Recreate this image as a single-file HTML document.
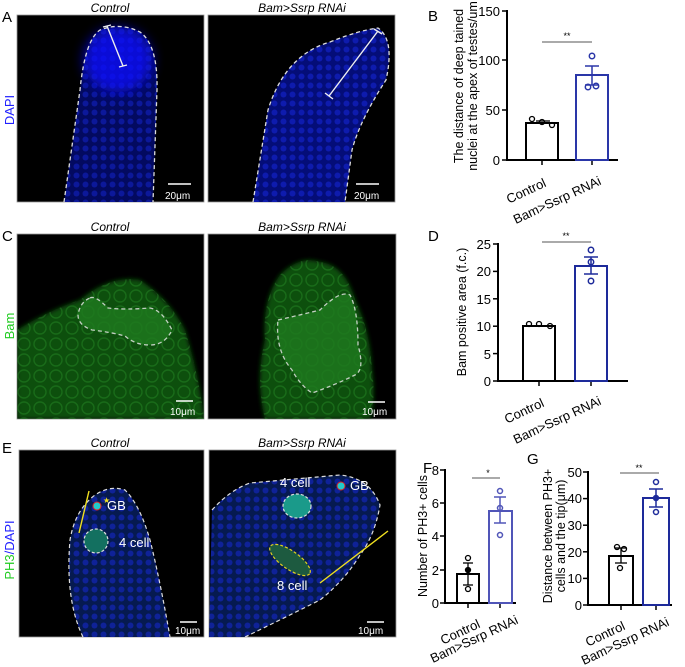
<!DOCTYPE html>
<html><head><meta charset="utf-8"><style>body{margin:0;background:#fff}svg{display:block}text{font-family:"Liberation Sans",Arial,sans-serif}</style></head><body>
<svg width="685" height="667" viewBox="0 0 685 667" xmlns="http://www.w3.org/2000/svg">
<defs>
<filter id="bl" x="-20%" y="-20%" width="140%" height="140%"><feGaussianBlur stdDeviation="6"/></filter>
<filter id="bl2"><feGaussianBlur stdDeviation="2"/></filter>
<pattern id="dots" width="9" height="9" patternUnits="userSpaceOnUse"><circle cx="4.5" cy="4.5" r="3" fill="#1a2cf0" opacity="0.9"/></pattern>
<pattern id="rings" width="16" height="16" patternUnits="userSpaceOnUse"><circle cx="8" cy="8" r="6" fill="none" stroke="#2fa02f" stroke-width="1.4" opacity="0.7"/></pattern>
<clipPath id="cA1"><rect x="17" y="15" width="187" height="187"/></clipPath>
<clipPath id="cA2"><rect x="208" y="15" width="187" height="187"/></clipPath>
<clipPath id="cC1"><rect x="17" y="234" width="187" height="185"/></clipPath>
<clipPath id="cC2"><rect x="208" y="234" width="188" height="185"/></clipPath>
<clipPath id="cE1"><rect x="19" y="450" width="185" height="187"/></clipPath>
<clipPath id="cE2"><rect x="209" y="450" width="187" height="187"/></clipPath>
</defs>

<!-- Panel A -->
<text x="2" y="22" font-size="15">A</text>
<text x="110" y="12" font-size="12" font-style="italic" text-anchor="middle">Control</text>
<text x="302" y="12" font-size="12" font-style="italic" text-anchor="middle">Bam&gt;Ssrp RNAi</text>
<text transform="translate(14,110) rotate(-90)" font-size="13" fill="#2020ff" text-anchor="middle">DAPI</text>
<rect x="17" y="15" width="187" height="187" fill="#000" stroke="#999" stroke-width="0.8"/>
<rect x="208" y="15" width="187" height="187" fill="#000" stroke="#999" stroke-width="0.8"/>
<g clip-path="url(#cA1)">
<path d="M64,202 L80,90 Q85,40 100,30 Q120,22 140,32 Q158,45 157,90 L153,202 Z" fill="#030a60"/>
<path d="M64,202 L80,90 Q85,40 100,30 Q120,22 140,32 Q158,45 157,90 L153,202 Z" fill="url(#dots)" opacity="0.45"/>
<ellipse cx="118" cy="60" rx="34" ry="32" fill="#1010ff" filter="url(#bl)" opacity="0.75"/>
<path d="M64,202 L80,90 Q85,40 100,30 Q120,22 140,32 Q158,45 157,90 L153,202" fill="none" stroke="#ddd" stroke-width="1.3" stroke-dasharray="4,3"/>
<path d="M107,26 L123,66 M103,27 L111,25 M119,67 L127,65" stroke="#eee" stroke-width="1.4"/>
<line x1="168" y1="184" x2="191" y2="184" stroke="#fff" stroke-width="1.5"/>
<text x="165" y="199" font-size="10" fill="#fff">20μm</text>
</g>
<g clip-path="url(#cA2)">
<path d="M253,202 L268,110 Q285,55 330,42 Q360,30 378,28 Q395,40 386,80 Q360,120 352,150 L345,202 Z" fill="#040d78"/>
<path d="M253,202 L268,110 Q285,55 330,42 Q360,30 378,28 Q395,40 386,80 Q360,120 352,150 L345,202 Z" fill="url(#dots)" opacity="0.5"/>
<path d="M253,202 L268,110 Q285,55 330,42 Q360,30 378,28 Q395,40 386,80 Q360,120 352,150 L345,202" fill="none" stroke="#ddd" stroke-width="1.3" stroke-dasharray="4,3"/>
<path d="M378,31 L329,96 M374,29 L382,34 M325,93 L333,99" stroke="#eee" stroke-width="1.4"/>
<line x1="356" y1="184" x2="379" y2="184" stroke="#fff" stroke-width="1.5"/>
<text x="354" y="199" font-size="10" fill="#fff">20μm</text>
</g>

<!-- Panel C -->
<text x="2" y="241" font-size="15">C</text>
<text x="110" y="231" font-size="12" font-style="italic" text-anchor="middle">Control</text>
<text x="302" y="231" font-size="12" font-style="italic" text-anchor="middle">Bam&gt;Ssrp RNAi</text>
<text transform="translate(14,326) rotate(-90)" font-size="13" fill="#22cc22" text-anchor="middle">Bam</text>
<rect x="17" y="234" width="187" height="185" fill="#000" stroke="#999" stroke-width="0.8"/>
<rect x="208" y="234" width="188" height="185" fill="#000" stroke="#999" stroke-width="0.8"/>
<g clip-path="url(#cC1)">
<path d="M17,330 Q50,310 80,300 Q110,275 140,280 Q170,300 185,330 Q200,380 204,419 L17,419 Z" fill="#105010" filter="url(#bl2)"/>
<path d="M17,330 Q50,310 80,300 Q110,275 140,280 Q170,300 185,330 Q200,380 204,419 L17,419 Z" fill="url(#rings)" opacity="0.5"/>
<path d="M90,298 Q95,295 108,308 Q125,310 150,308 Q162,310 172,330 Q165,345 150,345 Q135,345 125,336 Q110,332 92,330 Q78,325 78,315 Q80,302 90,298 Z" fill="#1f7a1f" opacity="0.8" stroke="#eee" stroke-width="1.3" stroke-dasharray="4,3"/>
<line x1="176" y1="401" x2="193" y2="401" stroke="#fff" stroke-width="1.5"/>
<text x="170" y="415" font-size="10" fill="#fff">10μm</text>
</g>
<g clip-path="url(#cC2)">
<path d="M265,419 Q255,380 265,340 Q262,300 280,275 Q300,255 320,262 Q345,265 355,300 Q370,330 372,370 Q376,400 370,419 Z" fill="#105010" filter="url(#bl2)"/>
<path d="M265,419 Q255,380 265,340 Q262,300 280,275 Q300,255 320,262 Q345,265 355,300 Q370,330 372,370 Q376,400 370,419 Z" fill="url(#rings)" opacity="0.5"/>
<path d="M278,320 Q300,315 320,310 Q340,290 350,295 Q358,310 358,345 Q365,370 355,375 Q335,385 312,393 Q300,385 292,370 Q275,350 278,320 Z" fill="#1f7a1f" opacity="0.8" stroke="#eee" stroke-width="1.3" stroke-dasharray="4,3"/>
<line x1="368" y1="402" x2="385" y2="402" stroke="#fff" stroke-width="1.5"/>
<text x="362" y="415" font-size="10" fill="#fff">10μm</text>
</g>

<!-- Panel E -->
<text x="2" y="453" font-size="15">E</text>
<text x="110" y="447" font-size="12" font-style="italic" text-anchor="middle">Control</text>
<text x="302" y="447" font-size="12" font-style="italic" text-anchor="middle">Bam&gt;Ssrp RNAi</text>
<text transform="translate(14,550) rotate(-90)" font-size="13" text-anchor="middle"><tspan fill="#22cc22">PH3</tspan><tspan fill="#2020ff">/DAPI</tspan></text>
<rect x="19" y="450" width="185" height="187" fill="#000" stroke="#999" stroke-width="0.8"/>
<rect x="209" y="450" width="187" height="187" fill="#000" stroke="#999" stroke-width="0.8"/>
<g clip-path="url(#cE1)">
<path d="M83,637 Q65,600 70,540 Q75,510 95,495 Q110,485 125,490 Q140,505 150,540 Q160,580 170,637 Z" fill="#061a50"/>
<path d="M83,637 Q65,600 70,540 Q75,510 95,495 Q110,485 125,490 Q140,505 150,540 Q160,580 170,637 Z" fill="url(#dots)" opacity="0.5"/>
<path d="M83,637 Q65,600 70,540 Q75,510 95,495 Q110,485 125,490 Q140,505 150,540 Q160,580 170,637" fill="none" stroke="#ddd" stroke-width="1.2" stroke-dasharray="4,3"/>
<line x1="89" y1="491" x2="79" y2="533" stroke="#f0e020" stroke-width="1.4"/>
<circle cx="97" cy="506" r="4" fill="#2cc" stroke="#d22" stroke-width="1"/>
<text x="103" y="503" font-size="8" fill="#f0e020">★</text>
<text x="107" y="510" font-size="13" fill="#fff">GB</text>
<circle cx="96" cy="541" r="12" fill="#137060" stroke="#ddd" stroke-width="1.2" stroke-dasharray="3,2"/>
<text x="119" y="547" font-size="13" fill="#fff">4 cell</text>
<line x1="180" y1="622" x2="197" y2="622" stroke="#fff" stroke-width="1.5"/>
<text x="175" y="634" font-size="10" fill="#fff">10μm</text>
</g>
<g clip-path="url(#cE2)">
<path d="M212,510 Q230,490 250,483 L340,475 Q370,478 380,505 Q375,535 360,555 Q345,580 320,600 Q280,620 245,637 L209,637 Z" fill="#061a50"/>
<path d="M212,510 Q230,490 250,483 L340,475 Q370,478 380,505 Q375,535 360,555 Q345,580 320,600 Q280,620 245,637 L209,637 Z" fill="url(#dots)" opacity="0.5"/>
<path d="M212,510 Q230,490 250,483 L340,475 Q370,478 380,505 Q375,535 360,555 Q345,580 320,600 Q280,620 245,637" fill="none" stroke="#ddd" stroke-width="1.2" stroke-dasharray="4,3"/>
<ellipse cx="297" cy="506" rx="14" ry="12" fill="#1a9a8a" stroke="#ddd" stroke-width="1.2" stroke-dasharray="3,2"/>
<ellipse cx="290" cy="560" rx="24" ry="9" transform="rotate(35 290 560)" fill="#1d5a40" stroke="#e0d020" stroke-width="1.2" stroke-dasharray="3,2"/>
<circle cx="341" cy="486" r="4" fill="#2cc" stroke="#d22" stroke-width="1"/>
<text x="280" y="487" font-size="13" fill="#fff">4 cell</text>
<text x="350" y="490" font-size="13" fill="#fff">GB</text>
<text x="277" y="590" font-size="13" fill="#fff">8 cell</text>
<line x1="320" y1="583" x2="388" y2="531" stroke="#f0e020" stroke-width="1.4"/>
<line x1="367" y1="622" x2="384" y2="622" stroke="#fff" stroke-width="1.5"/>
<text x="358" y="634" font-size="10" fill="#fff">10μm</text>
</g>

<!-- Chart B -->
<g font-size="13">
<text x="428" y="21" font-size="15">B</text>
<text transform="translate(463,86) rotate(-90)" font-size="12.5" text-anchor="middle">The distance of deep tained</text>
<text transform="translate(477,86) rotate(-90)" font-size="12.5" text-anchor="middle">nuclei at the apex of testes/um</text>
<line x1="507" y1="10" x2="507" y2="160" stroke="#000" stroke-width="2"/>
<line x1="506" y1="160" x2="618" y2="160" stroke="#000" stroke-width="2"/>
<g stroke="#000" stroke-width="1.5"><line x1="502" y1="11" x2="507" y2="11"/><line x1="502" y1="60" x2="507" y2="60"/><line x1="502" y1="110" x2="507" y2="110"/><line x1="502" y1="160" x2="507" y2="160"/><line x1="542" y1="160" x2="542" y2="165"/><line x1="592" y1="160" x2="592" y2="165"/></g>
<text x="500" y="16" text-anchor="end">150</text><text x="500" y="65" text-anchor="end">100</text><text x="500" y="115" text-anchor="end">50</text><text x="500" y="165" text-anchor="end">0</text>
<rect x="526" y="123" width="32" height="37" fill="none" stroke="#000" stroke-width="2"/>
<rect x="576" y="75" width="32" height="85" fill="none" stroke="#2a36a8" stroke-width="2"/>
<g stroke="#000" stroke-width="1.3" fill="none"><line x1="536" y1="121" x2="550" y2="121"/><circle cx="532" cy="119" r="2.5"/><circle cx="542" cy="122" r="2.5"/><circle cx="552" cy="125" r="2.5"/></g>
<g stroke="#2a36a8" stroke-width="1.5" fill="none"><line x1="592" y1="66" x2="592" y2="85"/><line x1="585" y1="66" x2="599" y2="66"/><line x1="585" y1="85" x2="599" y2="85"/><circle cx="592" cy="56" r="2.7"/><circle cx="588" cy="87" r="2.7"/><circle cx="596" cy="86" r="2.7"/></g>
<line x1="542" y1="42" x2="592" y2="42" stroke="#555" stroke-width="1"/>
<text x="567" y="39" font-size="9" text-anchor="middle">**</text>
<text transform="translate(547,186) rotate(-25)" text-anchor="end">Control</text>
<text transform="translate(602,184) rotate(-25)" text-anchor="end">Bam&gt;Ssrp RNAi</text>
</g>

<!-- Chart D -->
<g font-size="13">
<text x="428" y="241" font-size="15">D</text>
<text transform="translate(466,312) rotate(-90)" font-size="12.5" text-anchor="middle">Bam positive area (f.c.)</text>
<line x1="498" y1="243" x2="498" y2="381" stroke="#000" stroke-width="2"/>
<line x1="497" y1="381" x2="628" y2="381" stroke="#000" stroke-width="2"/>
<g stroke="#000" stroke-width="1.5"><line x1="493" y1="244" x2="498" y2="244"/><line x1="493" y1="271.4" x2="498" y2="271.4"/><line x1="493" y1="298.8" x2="498" y2="298.8"/><line x1="493" y1="326.2" x2="498" y2="326.2"/><line x1="493" y1="353.6" x2="498" y2="353.6"/><line x1="493" y1="381" x2="498" y2="381"/><line x1="539" y1="381" x2="539" y2="386"/><line x1="591" y1="381" x2="591" y2="386"/></g>
<text x="491" y="249" text-anchor="end">25</text><text x="491" y="276" text-anchor="end">20</text><text x="491" y="304" text-anchor="end">15</text><text x="491" y="331" text-anchor="end">10</text><text x="491" y="359" text-anchor="end">5</text><text x="491" y="386" text-anchor="end">0</text>
<rect x="523" y="326" width="32" height="55" fill="none" stroke="#000" stroke-width="2"/>
<rect x="575" y="266" width="32" height="115" fill="none" stroke="#1d2a9a" stroke-width="2"/>
<g stroke="#000" stroke-width="1.3" fill="none"><circle cx="529" cy="324" r="2.5"/><circle cx="539" cy="324" r="2.5"/><circle cx="550" cy="326" r="2.5"/></g>
<g stroke="#1d2a9a" stroke-width="1.5" fill="none"><line x1="591" y1="257" x2="591" y2="274"/><line x1="584" y1="257" x2="598" y2="257"/><line x1="584" y1="274" x2="598" y2="274"/><circle cx="591" cy="250" r="2.7"/><circle cx="591" cy="262" r="2.7"/><circle cx="591" cy="281" r="2.7"/></g>
<line x1="542" y1="242" x2="591" y2="242" stroke="#555" stroke-width="1"/>
<text x="566" y="239" font-size="9" text-anchor="middle">**</text>
<text transform="translate(545,406) rotate(-25)" text-anchor="end">Control</text>
<text transform="translate(602,404) rotate(-25)" text-anchor="end">Bam&gt;Ssrp RNAi</text>
</g>

<!-- Chart F -->
<g font-size="13">
<text x="423" y="473" font-size="15">F</text>
<text transform="translate(427,536) rotate(-90)" font-size="12.5" text-anchor="middle">Number of PH3+ cells</text>
<line x1="445" y1="469" x2="445" y2="603" stroke="#000" stroke-width="2"/>
<line x1="444" y1="603" x2="516" y2="603" stroke="#000" stroke-width="2"/>
<g stroke="#000" stroke-width="1.5"><line x1="440" y1="470" x2="445" y2="470"/><line x1="440" y1="503" x2="445" y2="503"/><line x1="440" y1="536" x2="445" y2="536"/><line x1="440" y1="570" x2="445" y2="570"/><line x1="440" y1="603" x2="445" y2="603"/><line x1="468" y1="603" x2="468" y2="608"/><line x1="500" y1="603" x2="500" y2="608"/></g>
<text x="439" y="475" text-anchor="end">8</text><text x="439" y="508" text-anchor="end">6</text><text x="439" y="541" text-anchor="end">4</text><text x="439" y="575" text-anchor="end">2</text><text x="439" y="608" text-anchor="end">0</text>
<rect x="457" y="574" width="22" height="29" fill="none" stroke="#000" stroke-width="2"/>
<rect x="489" y="511" width="23" height="92" fill="none" stroke="#5055b8" stroke-width="2"/>
<g stroke="#000" stroke-width="1.3" fill="none"><line x1="468" y1="563" x2="468" y2="585"/><line x1="463" y1="563" x2="473" y2="563"/><line x1="463" y1="585" x2="473" y2="585"/><circle cx="468" cy="558" r="2.5"/><circle cx="468" cy="570" r="2.5" fill="#000"/><circle cx="468" cy="589" r="2.5"/></g>
<g stroke="#5055b8" stroke-width="1.5" fill="none"><line x1="500" y1="497" x2="500" y2="523"/><line x1="494" y1="497" x2="506" y2="497"/><line x1="494" y1="523" x2="506" y2="523"/><circle cx="500" cy="491" r="2.5"/><circle cx="500" cy="508" r="2.5"/><circle cx="500" cy="535" r="2.5"/></g>
<line x1="472" y1="478" x2="500" y2="478" stroke="#555" stroke-width="1"/>
<text x="488" y="476" font-size="9" text-anchor="middle">*</text>
<text transform="translate(481,627) rotate(-25)" text-anchor="end">Control</text>
<text transform="translate(519,623) rotate(-25)" text-anchor="end">Bam&gt;Ssrp RNAi</text>
</g>

<!-- Chart G -->
<g font-size="13">
<text x="527" y="464" font-size="15">G</text>
<text transform="translate(552,536) rotate(-90)" font-size="12.5" text-anchor="middle">Distance between PH3+</text>
<text transform="translate(565,536) rotate(-90)" font-size="12.5" text-anchor="middle">cells and the tip(μm)</text>
<line x1="588" y1="471" x2="588" y2="605" stroke="#000" stroke-width="2"/>
<line x1="587" y1="605" x2="672" y2="605" stroke="#000" stroke-width="2"/>
<g stroke="#000" stroke-width="1.5"><line x1="583" y1="472" x2="588" y2="472"/><line x1="583" y1="498.6" x2="588" y2="498.6"/><line x1="583" y1="525.2" x2="588" y2="525.2"/><line x1="583" y1="551.8" x2="588" y2="551.8"/><line x1="583" y1="578.4" x2="588" y2="578.4"/><line x1="583" y1="605" x2="588" y2="605"/><line x1="621" y1="605" x2="621" y2="610"/><line x1="656" y1="605" x2="656" y2="610"/></g>
<text x="582" y="477" text-anchor="end">50</text><text x="582" y="503" text-anchor="end">40</text><text x="582" y="530" text-anchor="end">30</text><text x="582" y="557" text-anchor="end">20</text><text x="582" y="583" text-anchor="end">10</text><text x="582" y="610" text-anchor="end">0</text>
<rect x="609" y="556" width="24" height="49" fill="none" stroke="#000" stroke-width="2"/>
<rect x="643" y="498" width="26" height="107" fill="none" stroke="#1d2a9a" stroke-width="2"/>
<g stroke="#000" stroke-width="1.3" fill="none"><line x1="621" y1="548" x2="621" y2="563"/><line x1="615" y1="548" x2="627" y2="548"/><line x1="615" y1="563" x2="627" y2="563"/><circle cx="617" cy="547" r="2.5"/><circle cx="624" cy="549" r="2.5"/><circle cx="620" cy="568" r="2.5"/></g>
<g stroke="#1d2a9a" stroke-width="1.5" fill="none"><line x1="656" y1="489" x2="656" y2="507"/><line x1="649" y1="489" x2="663" y2="489"/><line x1="649" y1="507" x2="663" y2="507"/><circle cx="656" cy="482" r="2.5"/><circle cx="656" cy="498" r="2.5" fill="#1d2a9a"/><circle cx="656" cy="512" r="2.5"/></g>
<line x1="620" y1="473" x2="659" y2="473" stroke="#555" stroke-width="1"/>
<text x="639" y="471" font-size="9" text-anchor="middle">**</text>
<text transform="translate(626,629) rotate(-25)" text-anchor="end">Control</text>
<text transform="translate(670,625) rotate(-25)" text-anchor="end">Bam&gt;Ssrp RNAi</text>
</g>
</svg>
</body></html>
